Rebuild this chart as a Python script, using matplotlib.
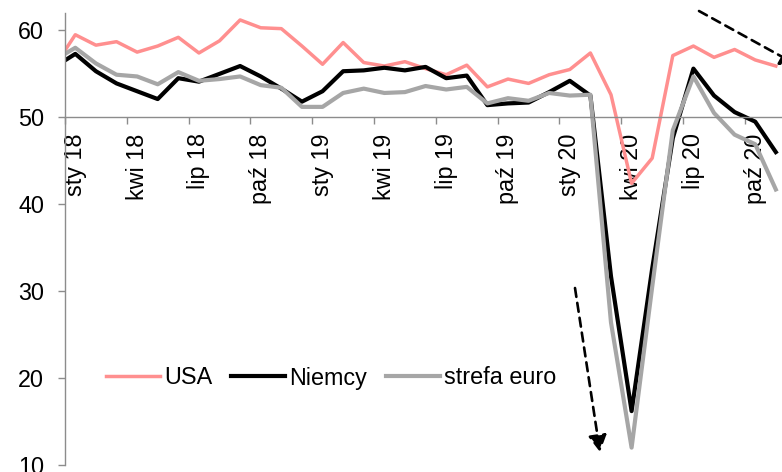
import matplotlib
matplotlib.use("Agg")
import matplotlib.pyplot as plt
import numpy as np


## Monthly PMI readings, gru 17 .. lis 20 (the December 2017 point sits left of the axis)
months = np.arange(-1, 35)

usa = [55.9,
       59.5, 58.3, 58.7, 57.5, 58.2, 59.2, 57.4, 58.8, 61.2, 60.3, 60.2, 58.2,
       56.1, 58.6, 56.3, 55.9, 56.4, 55.6, 54.9, 56.0, 53.5, 54.4, 53.9, 54.9,
       55.5, 57.4, 52.6, 42.4, 45.3, 57.1, 58.2, 56.9, 57.8, 56.6, 55.9]

niemcy = [55.8,
          57.3, 55.3, 53.9, 53.0, 52.1, 54.5, 54.1, 55.0, 55.9, 54.7, 53.3, 51.8,
          53.0, 55.3, 55.4, 55.7, 55.4, 55.8, 54.5, 54.8, 51.4, 51.6, 51.7, 52.9,
          54.2, 52.5, 31.7, 16.2, 32.6, 47.6, 55.6, 52.5, 50.6, 49.5, 46.0]

strefa_euro = [56.6,
               58.0, 56.2, 54.9, 54.7, 53.8, 55.2, 54.2, 54.4, 54.7, 53.7, 53.4, 51.2,
               51.2, 52.8, 53.3, 52.8, 52.9, 53.6, 53.2, 53.5, 51.6, 52.2, 51.9, 52.8,
               52.5, 52.6, 26.4, 12.0, 30.5, 48.5, 54.7, 50.5, 48.0, 46.9, 41.7]

tick_labels = ["sty 18", "kwi 18", "lip 18", "paź 18",
               "sty 19", "kwi 19", "lip 19", "paź 19",
               "sty 20", "kwi 20", "lip 20", "paź 20"]

AXIS_GRAY = "#8c8c8c"
FONT_SIZE = 16.8

plt.rcParams["font.family"] = ["Liberation Sans", "DejaVu Sans"]

W, H = 782, 472
fig = plt.figure(figsize=(W / 100, H / 100), dpi=100)
ax = fig.add_axes([65 / W, 7 / H, 1 - 65 / W, (465 - 13) / H])

ax.plot(months, usa, color="#ff8f8f", lw=2.5, label="USA")
ax.plot(months, niemcy, color="black", lw=3.0, label="Niemcy")
ax.plot(months, strefa_euro, color="#a6a6a6", lw=3.0, label="strefa euro")

ax.set_xlim(-0.5, 34.3)
ax.set_ylim(10, 62)

## Axes: horizontal axis crosses at 50, labels sit under it inside the plot
ax.spines["top"].set_visible(False)
ax.spines["right"].set_visible(False)
ax.spines["bottom"].set_position(("data", 50))
for s in ("left", "bottom"):
    ax.spines[s].set_color(AXIS_GRAY)
    ax.spines[s].set_linewidth(1.0)
ax.set_axisbelow(True)

ax.set_yticks([10, 20, 30, 40, 50, 60])
ax.tick_params(axis="y", direction="out", length=5, width=1.0, color=AXIS_GRAY,
               pad=10, labelsize=FONT_SIZE, labelcolor="black")

label_pos = np.arange(0, 34, 3)
ax.set_xticks(label_pos - 0.5)
ax.set_xticklabels([])
ax.set_xticks(label_pos, minor=True)
ax.set_xticklabels(tick_labels, minor=True, rotation=90, va="top", ha="center")
ax.tick_params(axis="x", which="major", direction="out", length=5, width=1.0,
               color=AXIS_GRAY)
ax.tick_params(axis="x", which="minor", length=0, pad=11.5,
               labelsize=FONT_SIZE, labelcolor="black")

## Legend across the lower part of the plot
ax.legend(loc="center left", bbox_to_anchor=(106 / W, 1 - 378 / H),
          bbox_transform=fig.transFigure, ncol=3, frameon=False,
          fontsize=FONT_SIZE, handlelength=2.3, handletextpad=0.2,
          columnspacing=0.8, borderpad=0, borderaxespad=0)

## Dashed trend arrows
def dashed_arrow(start, tip):
    ax.annotate("", xy=(tip[0], H - tip[1]), xytext=(start[0], H - start[1]),
                xycoords="figure pixels", textcoords="figure pixels",
                arrowprops=dict(arrowstyle="-|>,head_length=1.0,head_width=0.55",
                                linestyle=(0, (3.4, 2.3)), lw=1.9, color="black",
                                shrinkA=0, shrinkB=0))

dashed_arrow((575, 288), (600, 452))
dashed_arrow((699, 11), (797, 65))

fig.savefig("out.png", dpi=100)
